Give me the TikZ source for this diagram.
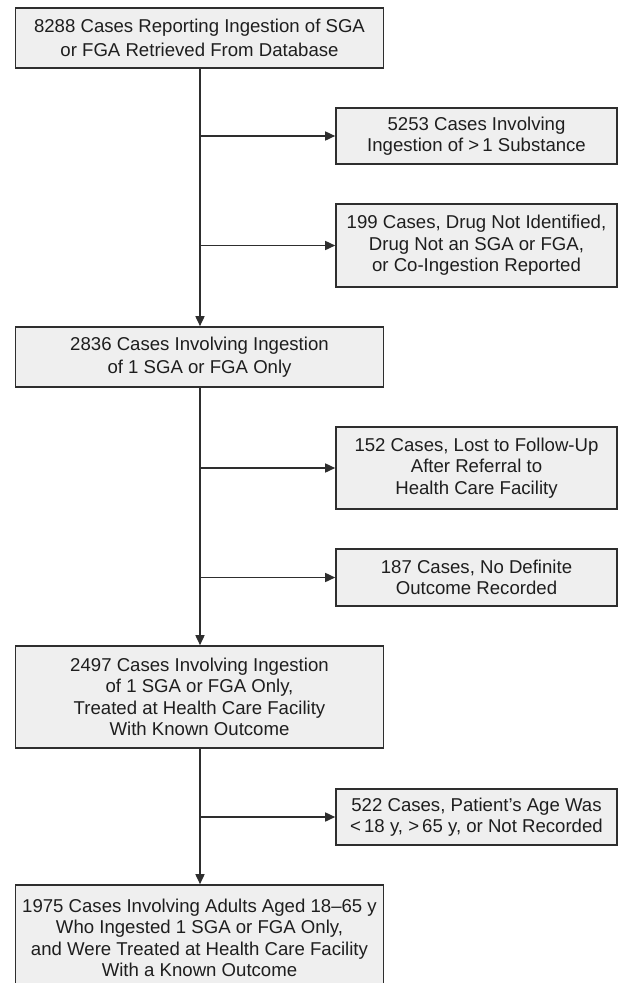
\documentclass[tikz,border=0pt]{standalone}
\usepackage{fontspec}
\setmainfont{Liberation Sans}
\usetikzlibrary{arrows.meta}
\definecolor{boxfill}{HTML}{EFEFEF}
\definecolor{ink}{HTML}{1E1E1E}
\definecolor{edge}{HTML}{2E2E2E}
\tikzset{
  mainbox/.style={draw=edge, fill=boxfill, line width=1.6pt, rectangle, inner sep=0pt,
    minimum width=368pt, align=center, text=ink,
    font=\fontsize{18.6}{21.5}\selectfont},
  sidebox/.style={mainbox, minimum width=281pt},
  conn/.style={draw=edge, line width=1.6pt},
  arr/.style={conn, -{Triangle[length=10pt,width=9pt]}}
}
\begin{document}
\begin{tikzpicture}[x=1pt,y=-1pt]
\useasboundingbox (0,0) rectangle (620,983);
\clip (0,0) rectangle (620,983);
% main column
\node[mainbox, minimum height=60pt, font=\fontsize{18.6}{24}\selectfont] (b1) at (199.5,38)
  {8288 Cases Reporting Ingestion of SGA\\or FGA Retrieved From Database};
\node[mainbox, minimum height=60pt, font=\fontsize{18.6}{23}\selectfont] (b2) at (199.5,357)
  {2836 Cases Involving Ingestion\\of 1 SGA or FGA Only};
\node[mainbox, minimum height=102pt] (b3) at (199.5,697)
  {2497 Cases Involving Ingestion\\of 1 SGA or FGA Only,\\Treated at Health Care Facility\\With Known Outcome};
\node[mainbox, minimum height=106pt] (b4) at (199.5,938)
  {1975 Cases Involving Adults Aged 18–65 y\\Who Ingested 1 SGA or FGA Only,\\and Were Treated at Health Care Facility\\With a Known Outcome};
% side boxes
\node[sidebox, minimum height=56pt] (e1) at (476.5,136)
  {5253 Cases Involving\\Ingestion of >\,1 Substance};
\node[sidebox, minimum height=83pt] (e2) at (476.5,245.5)
  {199 Cases, Drug Not Identified,\\Drug Not an SGA or FGA,\\or Co-Ingestion Reported};
\node[sidebox, minimum height=82pt] (e3) at (476.5,468)
  {152 Cases, Lost to Follow-Up\\After Referral to\\Health Care Facility};
\node[sidebox, minimum height=57pt] (e4) at (476.5,577.5)
  {187 Cases, No Definite\\Outcome Recorded};
\node[sidebox, minimum height=56pt] (e5) at (476.5,817)
  {522 Cases, Patient’s Age Was\\<\,18 y, >\,65 y, or Not Recorded};
% connectors
\coordinate (s1) at (b1.south -| 200,0);
\coordinate (s2) at (b2.south -| 200,0);
\coordinate (s3) at (b3.south -| 200,0);
\draw[arr] (s1) -- (b2.north -| s1);
\draw[arr] (s2) -- (b3.north -| s2);
\draw[arr] (s3) -- (b4.north -| s3);
\draw[arr] (s1 |- e1.west) -- (e1.west);
\draw[arr] (s1 |- e2.west) -- (e2.west);
\draw[arr] (s2 |- e3.west) -- (e3.west);
\draw[arr] (s2 |- e4.west) -- (e4.west);
\draw[arr] (s3 |- e5.west) -- (e5.west);
\end{tikzpicture}
\end{document}
